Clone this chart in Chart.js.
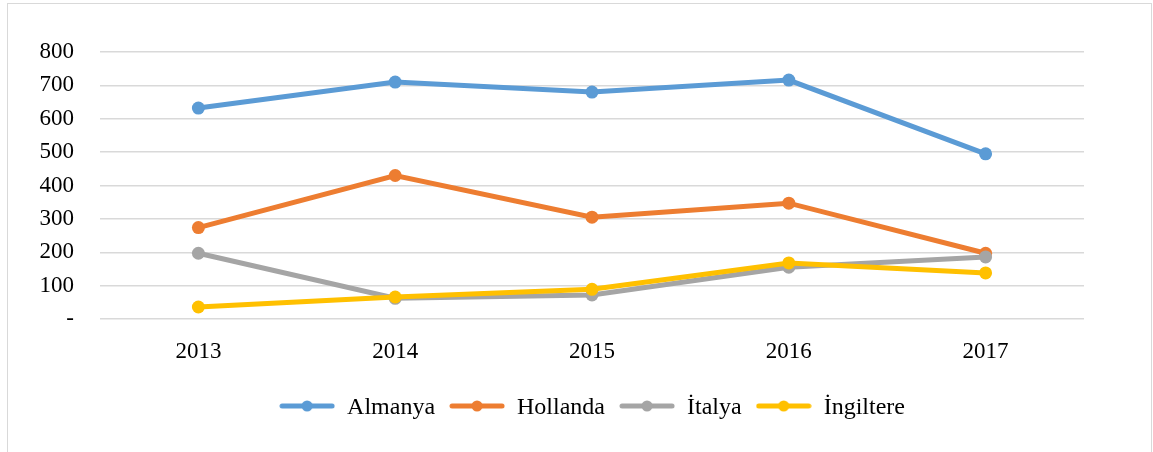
<!DOCTYPE html>
<html>
<head>
<meta charset="utf-8">
<script src="https://cdn.jsdelivr.net/npm/chart.js@4"></script>
<style>
  body { margin: 0; background: #fff; }
  #wrap { position: absolute; left: 0; top: 0; width: 1153px; height: 452px; }
  #frame { position: absolute; left: 7px; top: 3px; width: 1143px; height: 470px; border: 1px solid #d9d9d9; pointer-events: none; }
</style>
</head>
<body>
<div id="wrap"><canvas id="lineChart" width="1153" height="452"></canvas></div>
<div id="frame"></div>
<script>
// Data
const years = ['2013', '2014', '2015', '2016', '2017'];
const almanya = [632, 710, 680, 716, 495];
const hollanda = [274, 430, 305, 347, 197];
const italya = [197, 62, 72, 155, 186];
const ingiltere = [36, 66, 89, 168, 138];
const seriesNames = ['Almanya', 'Hollanda', 'İtalya', 'İngiltere'];
const yTicks = [0, 100, 200, 300, 400, 500, 600, 700, 800];

const colors = ['#5B9BD5', '#ED7D31', '#A5A5A5', '#FFC000'];
const FONT = "'Liberation Serif', 'Times New Roman', serif";

// legend marker: line with a dot in the middle
function legendIcon(color) {
    const c = document.createElement('canvas');
    c.width = 56;
    c.height = 16;
    const g = c.getContext('2d');
    g.strokeStyle = color;
    g.lineWidth = 5;
    g.lineCap = 'round';
    g.beginPath();
    g.moveTo(3, 6);
    g.lineTo(53, 6);
    g.stroke();
    g.fillStyle = color;
    g.beginPath();
    g.arc(28, 6, 5.5, 0, Math.PI * 2);
    g.fill();
    return c;
}

const allValues = [almanya, hollanda, italya, ingiltere];
const datasets = allValues.map((vals, i) => ({
    label: seriesNames[i],
    data: vals,
    borderColor: colors[i],
    backgroundColor: colors[i],
    borderWidth: 5,
    pointRadius: 6.5,
    pointHoverRadius: 6.5,
    pointBorderWidth: 0,
    tension: 0,
    order: 4 - i
}));

const ctx = document.getElementById('lineChart').getContext('2d');
const lineChart = new Chart(ctx, {
    type: 'line',
    data: { labels: years, datasets: datasets },
    options: {
        responsive: false,
        animation: false,
        layout: { padding: { top: 52, right: 69, bottom: 22, left: 0 } },
        plugins: {
            tooltip: { enabled: false },
            legend: {
                position: 'bottom',
                fullSize: false,
                labels: {
                    font: { family: FONT, size: 24 },
                    color: '#000',
                    usePointStyle: true,
                    pointStyleWidth: 56,
                    padding: 14,
                    generateLabels: chart => chart.data.datasets.map((ds, i) => ({
                        text: ds.label,
                        pointStyle: legendIcon(colors[i]),
                        fillStyle: colors[i],
                        strokeStyle: colors[i],
                        lineWidth: 0,
                        hidden: false,
                        datasetIndex: i
                    }))
                }
            }
        },
        scales: {
            x: {
                offset: true,
                grid: { display: false },
                border: { display: false },
                ticks: { font: { family: FONT, size: 23 }, color: '#000', padding: 11 },
                afterFit: scale => { scale.height = 63; }
            },
            y: {
                min: 0,
                max: 800,
                afterBuildTicks: scale => { scale.ticks = yTicks.map(v => ({ value: v })); },
                afterFit: scale => { scale.width = 100; },
                grid: { color: '#d9d9d9', lineWidth: 1.5, drawTicks: false },
                border: { display: false },
                ticks: {
                    font: { family: FONT, size: 23 },
                    color: '#000',
                    padding: 26,
                    callback: v => v === 0 ? '-' : v
                }
            }
        }
    }
});
</script>
</body>
</html>
